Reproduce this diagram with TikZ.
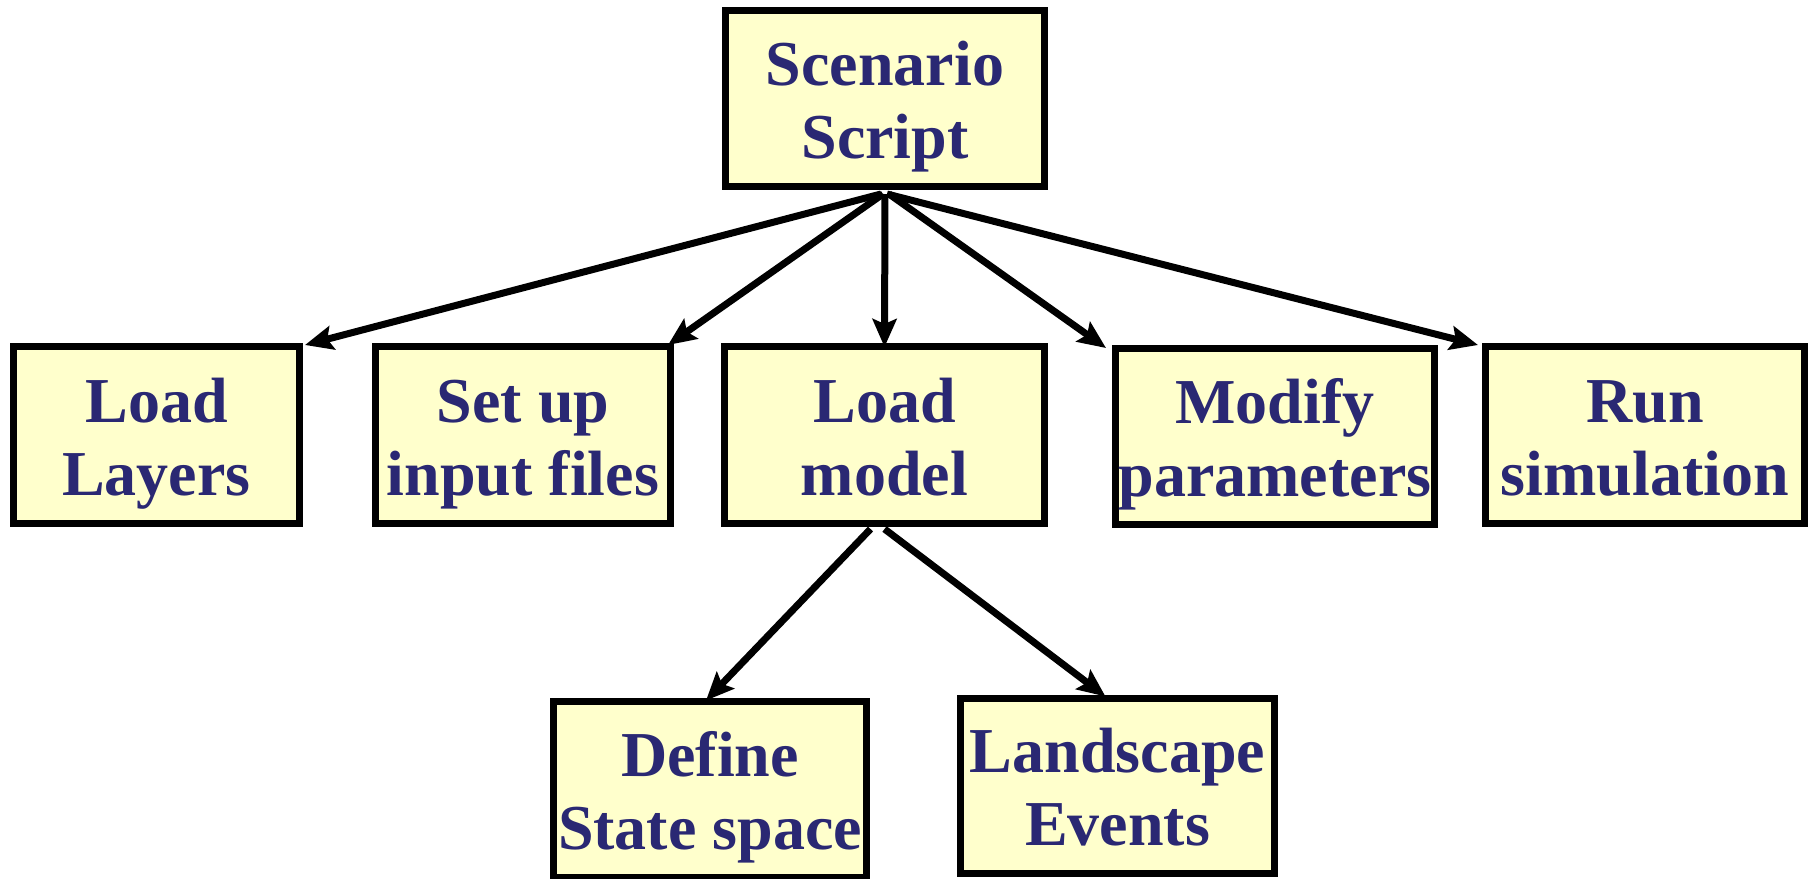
\documentclass[tikz,border=0pt]{standalone}
\usepackage{fontspec}
\setmainfont{Liberation Serif}
\usetikzlibrary{arrows.meta}
\definecolor{boxfill}{HTML}{FFFFCC}
\definecolor{boxtext}{HTML}{2A2873}
\newcommand{\twol}[2]{\rule{0pt}{65pt}#1\\#2\rule[-18pt]{0pt}{18pt}}
\tikzset{
  box/.style={draw=black, line width=7pt, fill=boxfill, text=boxtext,
    font=\fontsize{64}{73}\selectfont\bfseries, align=center, inner sep=0pt,
    minimum height=177pt},
  conn/.style={line width=7pt, -{Stealth[length=28pt,width=24pt,inset=5pt]}}
}
\begin{document}
\begin{tikzpicture}[x=1pt,y=-1pt]
\useasboundingbox (0,0) rectangle (1814,878);
\node[box, minimum width=319pt, minimum height=176pt] (scen) at (885,98.5) {\twol{Scenario}{Script}};
\node[box, minimum width=286pt] (layers) at (156.5,435) {\twol{Load}{Layers}};
\node[box, minimum width=295pt] (setup) at (523,435) {\twol{Set up}{input files}};
\node[box, minimum width=320pt] (model) at (884.5,435) {\twol{Load}{model}};
\node[box, minimum width=319pt, minimum height=176pt] (modify) at (1275,436.5) {\twol{Modify}{parameters}};
\node[box, minimum width=319pt] (run) at (1645,435) {\twol{Run}{simulation}};
\node[box, minimum width=313pt, minimum height=176pt] (define) at (710,789) {\twol{Define}{State space}};
\node[box, minimum width=314pt, minimum height=175pt] (land) at (1117.5,785.5) {\twol{Landscape}{Events}};
\coordinate (hub) at ([yshift=-4pt]scen.south);
\draw[conn] ([xshift=-4pt]hub) -- ([xshift=2pt,yshift=-2pt]layers.north east);
\draw[conn] ([xshift=-2pt]hub) -- ([xshift=-6pt,yshift=-2pt]setup.north east);
\draw[conn] (hub) -- ([yshift=-4pt]model.north);
\draw[conn] ([xshift=4pt]hub) -- ([xshift=-6pt,yshift=-3pt]modify.north west);
\draw[conn] ([xshift=2pt]hub) -- ([xshift=-4pt,yshift=-2pt]run.north west);
\draw[conn] ([xshift=-14pt,yshift=-2pt]model.south) -- ([xshift=-4pt,yshift=-3pt]define.north);
\draw[conn] ([yshift=-2pt]model.south) -- ([xshift=-12pt,yshift=-2pt]land.north);
\end{tikzpicture}
\end{document}
